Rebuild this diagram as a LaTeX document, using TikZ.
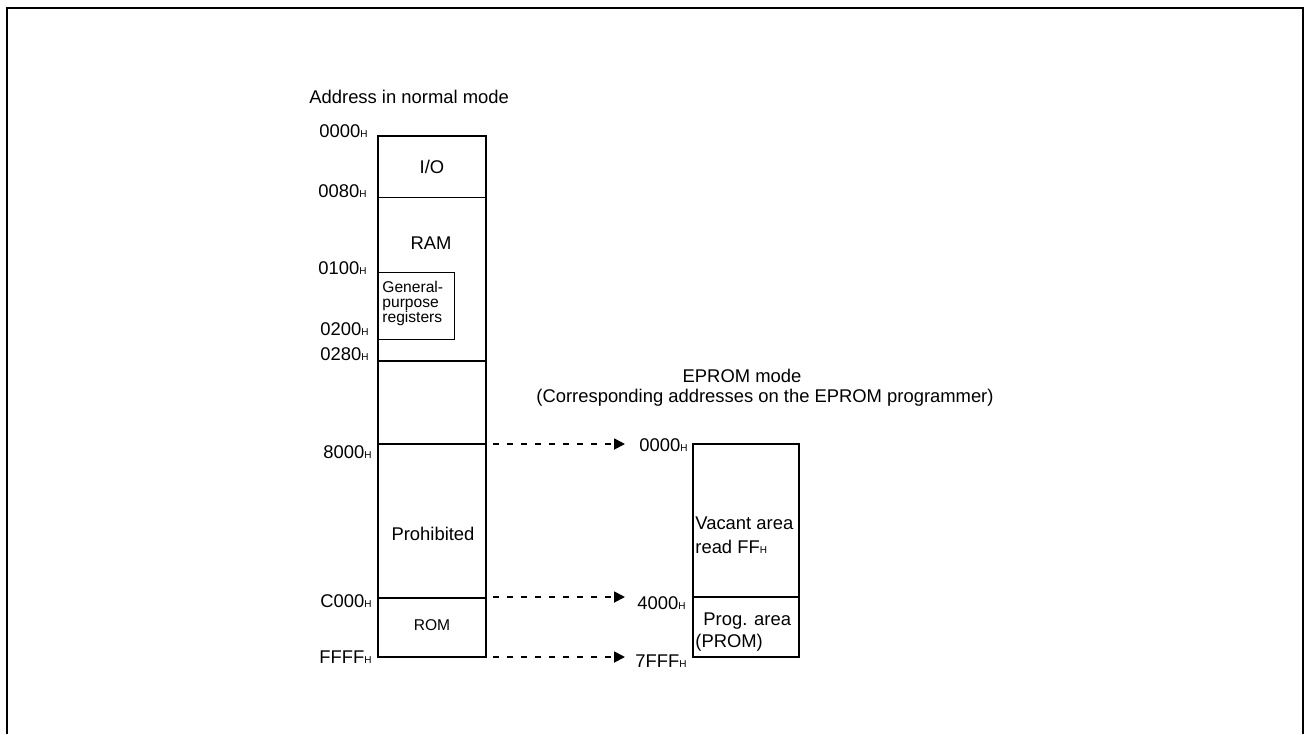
\documentclass[tikz,border=0pt]{standalone}
\usepackage{fontspec}
\setmainfont{Liberation Sans}
\usetikzlibrary{arrows.meta}
\newcommand\Hsub{{\fontsize{5}{5}\selectfont H}}
\begin{document}
\begin{tikzpicture}[x=0.5pt,y=-0.5pt,
  every node/.style={inner sep=0pt, font=\fontsize{9.2}{11}\selectfont},
  addr/.style={anchor=east},
  smalltext/.style={font=\fontsize{7.8}{7.5}\selectfont},
  heavy/.style={line width=1pt},
  light/.style={line width=0.5pt},
  maparrow/.style={line width=0.9pt, dash pattern=on 3pt off 4pt, -{Triangle[length=5.5pt,width=5.5pt]}}]

\useasboundingbox (0,0) rectangle (1306,734);
% outer frame
\draw[heavy] (7,734) -- (7,8) -- (1303,8) -- (1303,734);

% normal-mode memory map
\draw[heavy] (378,136) rectangle (486,657);
\draw[light] (378,197) -- (486,197);
\draw[heavy] (378,361) -- (486,361);
\draw[heavy] (378,444) -- (486,444);
\draw[heavy] (378,598) -- (486,598);
\draw[light] (378,272) rectangle (454,339);

\node[anchor=west] (title1) at (309,97) {Address in normal mode};
\node (io) at (432,167) {I/O};
\node (ram) at (431,243) {RAM};
\node[smalltext, anchor=west, align=left] (gpr) at (382,303) {General-\\purpose\\registers};
\node (proh) at (433,534) {Prohibited};
\node[smalltext] (rom) at (432,625) {ROM};

\node[addr] (a0000) at (368,131) {0000\Hsub};
\node[addr] (a0080) at (367,191) {0080\Hsub};
\node[addr] (a0100) at (367,268) {0100\Hsub};
\node[addr] (a0200) at (369,329) {0200\Hsub};
\node[addr] (a0280) at (369,354) {0280\Hsub};
\node[addr] (a8000) at (372,452) {8000\Hsub};
\node[addr] (aC000) at (372,601) {C000\Hsub};
\node[addr] (aFFFF) at (372,657) {FFFF\Hsub};

% EPROM mode map
\node (title2) at (742,376) {EPROM mode};
\node (title3) at (765,398) {(Corresponding addresses on the EPROM programmer)};
\draw[heavy] (693,444) rectangle (799,657);
\draw[heavy] (693,597) -- (799,597);
\node[anchor=west, align=left, font=\fontsize{9.2}{12}\selectfont] (vac) at (695,535) {Vacant area\\read FF\Hsub};
\node[anchor=west, align=left, font=\fontsize{9.2}{11}\selectfont] (prog) at (695,632) {\hspace{4pt}Prog. area\\(PROM)};

\node[addr] (e0000) at (688,445) {0000\Hsub};
\node[addr] (e4000) at (686,603) {4000\Hsub};
\node[addr] (e7FFF) at (687,661) {7FFF\Hsub};

% mapping arrows
\coordinate (s1) at (493,444); \coordinate (t1) at (625,444);
\coordinate (s2) at (493,597); \coordinate (t2) at (625,597);
\coordinate (s3) at (493,657); \coordinate (t3) at (625,657);
\draw[maparrow] (s1) -- (t1);
\draw[maparrow] (s2) -- (t2);
\draw[maparrow] (s3) -- (t3);
\end{tikzpicture}
\end{document}
